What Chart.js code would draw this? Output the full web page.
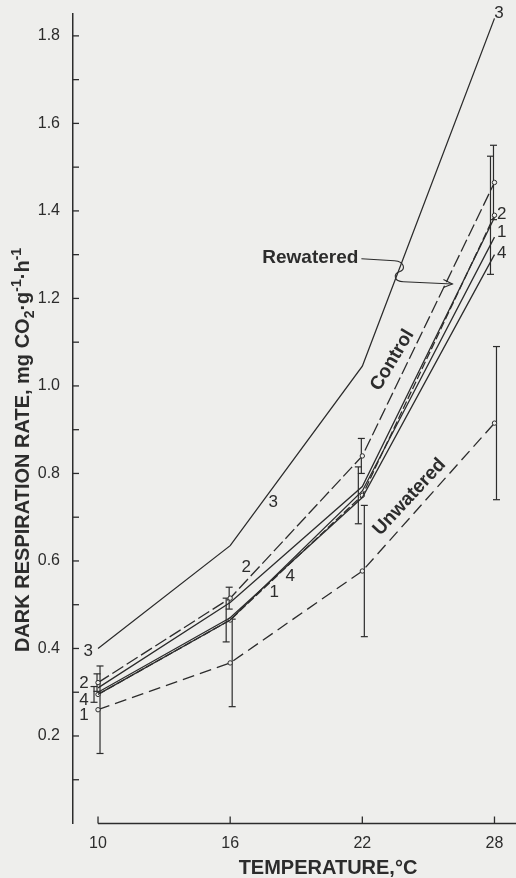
<!DOCTYPE html>
<html>
<head>
<meta charset="utf-8">
<title>Dark respiration rate vs temperature</title>
<script src="https://cdn.jsdelivr.net/npm/chart.js@4/dist/chart.umd.min.js"></script>
<style>
  html, body { margin: 0; padding: 0; background: #eeeeec; overflow: hidden; }
  #wrap { width: 516px; height: 878px; }
  canvas { display: block; }
</style>
</head>
<body>
<div id="wrap"><canvas id="chart" width="516" height="878"></canvas></div>
<script>
// Measured temperatures (°C)
const temperatures = [10, 16, 22, 28];

// Dark respiration rate, mg CO2 g-1 h-1 — individual clones
const clone1 = [0.295, 0.465, 0.76, 1.34];
const clone2 = [0.31, 0.505, 0.77, 1.385];
const clone3 = [0.40, 0.635, 1.045, 1.84];
const clone4 = [0.30, 0.47, 0.745, 1.30];

// Treatment means and their error ranges
const control = [0.322, 0.515, 0.84, 1.465];
const controlErr = [0.02, 0.025, 0.04, 0.085];
const rewatered = [0.295, 0.465, 0.75, 1.39];
const rewateredErr = [0.018, 0.05, 0.065, 0.135];
const unwatered = [0.26, 0.367, 0.577, 0.915];
const unwateredErr = [0.10, 0.10, 0.15, 0.175];

// Axis ticks
const xTickValues = [10, 16, 22, 28];
const yTickValues = [0.1, 0.2, 0.3, 0.4, 0.5, 0.6, 0.7, 0.8, 0.9, 1.0, 1.1, 1.2, 1.3, 1.4, 1.5, 1.6, 1.7, 1.8];
const yLabelValues = [0.2, 0.4, 0.6, 0.8, 1.0, 1.2, 1.4, 1.6, 1.8];

// Clone number tags, placed in (temperature, rate) coordinates
const cloneTags = [
  { text: '3', at: [[9.55, 0.394], [17.95, 0.735], [28.2, 1.851]] },
  { text: '2', at: [[9.36, 0.321], [16.73, 0.586], [28.33, 1.392]] },
  { text: '4', at: [[9.36, 0.282], [18.73, 0.565], [28.33, 1.304]] },
  { text: '1', at: [[9.36, 0.248], [18.0, 0.529], [28.33, 1.35]] }
];

const INK = '#2c2c2c';
const PAPER = '#eeeeec';
const FONT = '"Liberation Sans", Arial, Helvetica, sans-serif';

function pts(series) {
  return temperatures.map((t, i) => ({ x: t, y: series[i] }));
}

function solid(series) {
  return {
    data: pts(series), borderColor: INK, borderWidth: 1.3,
    pointRadius: 0, tension: 0, fill: false
  };
}

function dashed(series, errors, dash, shift) {
  return {
    data: pts(series), errors: errors, errorShift: shift,
    borderColor: INK, borderWidth: 1.3, borderDash: dash,
    pointRadius: 2.2, pointBackgroundColor: PAPER, pointBorderColor: INK,
    pointBorderWidth: 1, tension: 0, fill: false
  };
}

function seg(ctx, x1, y1, x2, y2) {
  ctx.beginPath(); ctx.moveTo(x1, y1); ctx.lineTo(x2, y2); ctx.stroke();
}

// Draws a run of text pieces with sub/superscripts, centred on (0,0)
function richText(ctx, parts, size) {
  const small = Math.round(size * 0.68);
  const widths = parts.map(p => {
    ctx.font = 'bold ' + (p.sub || p.sup ? small : size) + 'px ' + FONT;
    return ctx.measureText(p.t).width;
  });
  const total = widths.reduce((a, b) => a + b, 0);
  let cx = -total / 2;
  ctx.textAlign = 'left';
  ctx.textBaseline = 'alphabetic';
  const base = size * 0.36;
  parts.forEach((p, i) => {
    ctx.font = 'bold ' + (p.sub || p.sup ? small : size) + 'px ' + FONT;
    let dy = base;
    if (p.sub) dy += size * 0.22;
    if (p.sup) dy -= size * 0.42;
    ctx.fillText(p.t, cx, dy);
    cx += widths[i];
  });
}

const decor = {
  id: 'decor',
  beforeDatasetsDraw(chart) {
    const { ctx, scales: { x, y } } = chart;
    ctx.save();
    ctx.strokeStyle = INK;
    ctx.lineWidth = 1.2;
    chart.data.datasets.forEach(ds => {
      if (!ds.errors) return;
      ds.data.forEach((p, j) => {
        const px = x.getPixelForValue(p.x) + (ds.errorShift || 0);
        const top = y.getPixelForValue(p.y + ds.errors[j]);
        const bot = y.getPixelForValue(p.y - ds.errors[j]);
        seg(ctx, px, top, px, bot);
        seg(ctx, px - 3.5, top, px + 3.5, top);
        seg(ctx, px - 3.5, bot, px + 3.5, bot);
      });
    });
    ctx.restore();
  },
  afterDraw(chart) {
    const { ctx, chartArea: a, scales: { x, y } } = chart;
    ctx.save();
    ctx.strokeStyle = INK;
    ctx.fillStyle = INK;

    // temperature axis line, starting at the first measured temperature
    ctx.lineWidth = 1.5;
    seg(ctx, x.getPixelForValue(xTickValues[0]), a.bottom, chart.width, a.bottom);
    ctx.lineWidth = 1.3;
    xTickValues.forEach(v => {
      const px = x.getPixelForValue(v);
      seg(ctx, px, a.bottom, px, a.bottom - 7);
    });
    // inward tick marks on the rate axis
    yTickValues.forEach(v => {
      const py = y.getPixelForValue(v);
      seg(ctx, a.left - 1, py, a.left + 6, py);
    });

    // clone number tags
    ctx.font = '17px ' + FONT;
    ctx.textAlign = 'center';
    ctx.textBaseline = 'middle';
    cloneTags.forEach(tag => {
      tag.at.forEach(([t, v]) => {
        ctx.fillText(tag.text, x.getPixelForValue(t), y.getPixelForValue(v));
      });
    });

    // treatment names along their curves
    const names = [
      { text: 'Control', t: 23.36, v: 1.059, angle: -59 },
      { text: 'Unwatered', t: 24.14, v: 0.746, angle: -47 }
    ];
    ctx.font = 'bold 19px ' + FONT;
    names.forEach(n => {
      ctx.save();
      ctx.translate(x.getPixelForValue(n.t), y.getPixelForValue(n.v));
      ctx.rotate(n.angle * Math.PI / 180);
      ctx.fillText(n.text, 0, 0);
      ctx.restore();
    });

    // "Rewatered" with its pointer into the cluster of curves
    const rx = x.getPixelForValue(19.64), ry = y.getPixelForValue(1.293);
    ctx.fillText('Rewatered', rx, ry);
    const half = ctx.measureText('Rewatered').width / 2;
    const tx = x.getPixelForValue(26.09), ty = y.getPixelForValue(1.233);
    const sx = rx + half + 3, sy = ry + 1;
    ctx.lineWidth = 1.1;
    ctx.beginPath();
    ctx.moveTo(sx, sy);
    ctx.lineTo(sx + 33, sy + 2);
    ctx.bezierCurveTo(sx + 44, sy + 3, sx + 44, sy + 11, sx + 38, sy + 13);
    ctx.bezierCurveTo(sx + 32, sy + 15, sx + 32, sy + 23, sx + 42, sy + 23);
    ctx.lineTo(tx, ty);
    ctx.stroke();
    ctx.beginPath();
    ctx.moveTo(tx - 9, ty - 4.5);
    ctx.lineTo(tx, ty);
    ctx.lineTo(tx - 9, ty + 3.5);
    ctx.stroke();

    // axis titles
    ctx.fillStyle = INK;
    ctx.save();
    ctx.translate(328, 867);
    richText(ctx, [{ t: 'TEMPERATURE,°C' }], 20);
    ctx.restore();

    ctx.save();
    ctx.translate(22, 450);
    ctx.rotate(-Math.PI / 2);
    richText(ctx, [
      { t: 'DARK RESPIRATION RATE, mg CO' }, { t: '2', sub: true },
      { t: '·g' }, { t: '-1', sup: true },
      { t: '·h' }, { t: '-1', sup: true }
    ], 20);
    ctx.restore();

    ctx.restore();
  }
};

new Chart(document.getElementById('chart'), {
  type: 'line',
  data: {
    datasets: [
      solid(clone3),
      solid(clone2),
      solid(clone1),
      solid(clone4),
      dashed(control, controlErr, [13, 4], -1),
      dashed(rewatered, rewateredErr, [8, 3], -4),
      dashed(unwatered, unwateredErr, [12, 6], 2)
    ]
  },
  options: {
    responsive: false,
    animation: false,
    devicePixelRatio: 1,
    layout: { padding: { top: 14, right: 0, left: 0, bottom: 0 } },
    plugins: { legend: { display: false }, tooltip: { enabled: false }, title: { display: false } },
    scales: {
      x: {
        type: 'linear', min: 8.864, max: 28.75,
        afterBuildTicks(s) { s.ticks = xTickValues.map(v => ({ value: v })); },
        afterFit(s) { s.height = 54.5; s.paddingLeft = 0; s.paddingRight = 0; },
        ticks: {
          autoSkip: false, maxRotation: 0, padding: 10, color: INK,
          font: { family: FONT, size: 16 },
          callback: v => String(v)
        },
        grid: { display: false, drawTicks: false },
        border: { display: false }
      },
      y: {
        type: 'linear', min: 0, max: 1.85,
        afterBuildTicks(s) { s.ticks = yTickValues.map(v => ({ value: v })); },
        afterFit(s) { s.width = 73; s.paddingTop = 0; s.paddingBottom = 0; },
        ticks: {
          autoSkip: false, padding: 13, color: INK,
          font: { family: FONT, size: 16 },
          callback: v => yLabelValues.some(l => Math.abs(l - v) < 1e-6) ? v.toFixed(1) : ''
        },
        grid: { display: false, drawTicks: false },
        border: { display: true, color: INK, width: 1.5 }
      }
    }
  },
  plugins: [decor]
});
</script>
</body>
</html>
